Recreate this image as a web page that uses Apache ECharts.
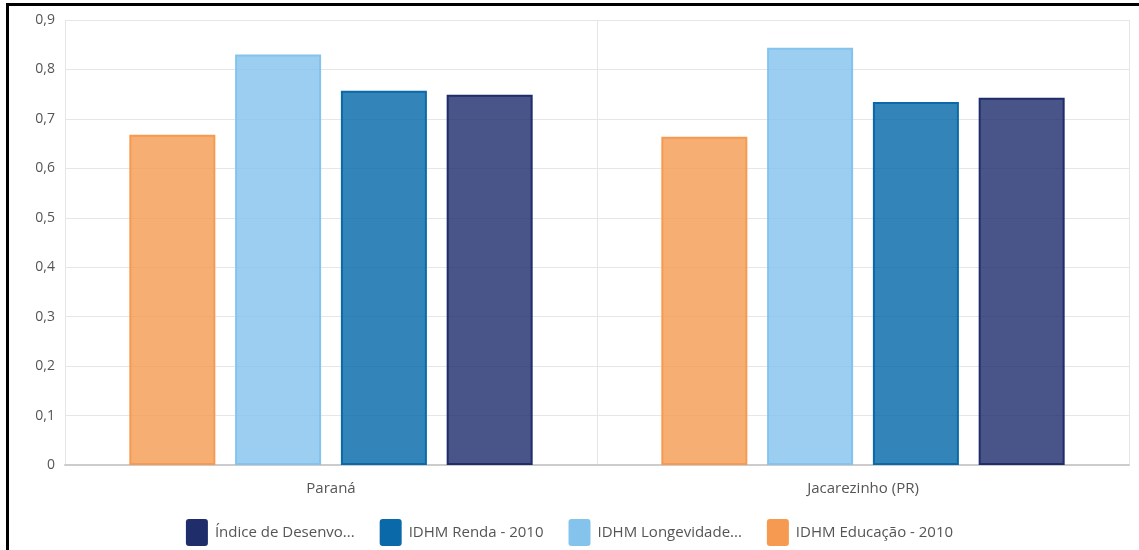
<!DOCTYPE html>
<html>
<head>
<meta charset="utf-8">
<script src="https://cdn.jsdelivr.net/npm/echarts@6/dist/echarts.min.js"></script>
<style>
  html, body { margin: 0; padding: 0; background: #fff; }
  #chart { position: absolute; left: 0; top: 0; width: 1139px; height: 550px; }
  #frame { position: absolute; left: 6px; top: 3px; right: 0; bottom: 0;
           border-top: 3px solid #000; border-left: 3px solid #000; pointer-events: none; }
</style>
</head>
<body>
<div id="chart"></div>
<div id="frame"></div>
<script>
// Regions compared
const categories = ['Paraná', 'Jacarezinho (PR)'];

// IDHM components, 2010
const educacao    = [0.668, 0.664];
const longevidade = [0.830, 0.844];
const renda       = [0.757, 0.734];
const idhm        = [0.749, 0.743];

// Series names and the shortened labels shown in the legend
const seriesNames = [
  'IDHM Educação - 2010',
  'IDHM Longevidade - 2010',
  'IDHM Renda - 2010',
  'Índice de Desenvolvimento Humano Municipal - 2010'
];
const legendLabels = {
  'Índice de Desenvolvimento Humano Municipal - 2010': 'Índice de Desenvo...',
  'IDHM Renda - 2010': 'IDHM Renda - 2010',
  'IDHM Longevidade - 2010': 'IDHM Longevidade...',
  'IDHM Educação - 2010': 'IDHM Educação - 2010'
};
const legendOrder = [seriesNames[3], seriesNames[2], seriesNames[1], seriesNames[0]];

const palette = [
  { fill: 'rgba(245,154,80,0.8)',  line: '#f59a50' },
  { fill: 'rgba(130,194,236,0.8)', line: '#84c3ec' },
  { fill: 'rgba(0,103,168,0.8)',   line: '#0a69a8' },
  { fill: 'rgba(27,42,107,0.8)',   line: '#1f2d6a' }
];
const values = [educacao, longevidade, renda, idhm];

// Legend swatch: rectangle with slightly rounded corners
const swatch = 'path://M3,0 H19 Q22,0 22,3 V24 Q22,27 19,27 H3 Q0,27 0,24 V3 Q0,0 3,0 Z';

const chart = echarts.init(document.getElementById('chart'));
chart.setOption({
  animation: false,
  textStyle: { fontFamily: 'Open Sans' },
  grid: { left: 65, right: 10, top: 20, bottom: 85 },
  legend: {
    top: 514,
    left: 'center',
    data: legendOrder.map(n => {
      const i = seriesNames.indexOf(n);
      return { name: n, icon: swatch, itemStyle: { color: palette[i].line, borderWidth: 0 } };
    }),
    itemWidth: 22,
    itemHeight: 27,
    itemGap: 25,
    formatter: name => legendLabels[name],
    textStyle: { color: '#555', fontSize: 15, fontFamily: 'Open Sans', padding: [0, 0, 0, 2] }
  },
  xAxis: {
    type: 'category',
    data: categories,
    axisLine: { lineStyle: { color: '#ccc', width: 2 } },
    axisTick: { show: false },
    splitLine: { show: true, lineStyle: { color: '#e6e6e6', width: 1 } },
    axisLabel: { color: '#555', fontSize: 15, margin: 16 }
  },
  yAxis: {
    type: 'value',
    min: 0,
    max: 0.9,
    interval: 0.1,
    axisLine: { show: false },
    axisTick: { show: false },
    splitLine: { lineStyle: { color: '#e6e6e6', width: 1 } },
    axisLabel: {
      color: '#555',
      fontSize: 14,
      margin: 10,
      formatter: v => (v === 0 ? '0' : v.toFixed(1).replace('.', ','))
    }
  },
  series: seriesNames.map((name, i) => ({
    name: name,
    type: 'bar',
    data: values[i],
    barWidth: 86,
    barGap: '23%',
    itemStyle: {
      color: palette[i].fill,
      borderColor: palette[i].line,
      borderWidth: 2
    }
  }))
});
</script>
</body>
</html>
